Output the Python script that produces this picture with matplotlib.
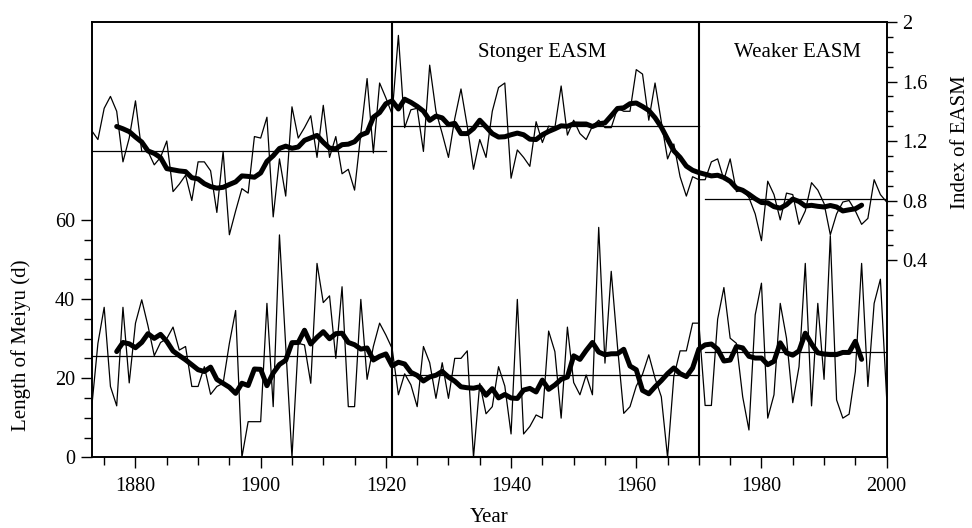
import numpy as np
import matplotlib
matplotlib.use("Agg")
import matplotlib.pyplot as plt
from matplotlib.patches import Rectangle

plt.rcParams['font.family'] = ['Liberation Serif', 'DejaVu Serif']

years = list(range(1873, 2001))

easm = [1.27, 1.21, 1.42, 1.50, 1.40, 1.06, 1.22, 1.47, 1.13, 1.13,
        1.04, 1.09, 1.20, 0.86, 0.91, 0.97, 0.80, 1.06, 1.06, 1.00,
        0.72, 1.13, 0.57, 0.73, 0.88, 0.85, 1.23, 1.22, 1.36, 0.69,
        1.08, 0.83, 1.43, 1.22, 1.29, 1.37, 1.09, 1.44, 1.09, 1.23,
        0.98, 1.01, 0.87, 1.25, 1.62, 1.12, 1.59, 1.49, 1.38, 1.91,
        1.29, 1.41, 1.42, 1.13, 1.71, 1.40, 1.25, 1.09, 1.35, 1.55,
        1.30, 1.01, 1.21, 1.09, 1.40, 1.56, 1.59, 0.95, 1.14, 1.09,
        1.03, 1.33, 1.19, 1.30, 1.29, 1.57, 1.24, 1.34, 1.25, 1.21,
        1.30, 1.34, 1.29, 1.29, 1.42, 1.40, 1.40, 1.68, 1.65, 1.34,
        1.59, 1.33, 1.08, 1.18, 0.96, 0.83, 0.96, 0.94, 0.94, 1.06,
        1.08, 0.94, 1.08, 0.86, 0.87, 0.82, 0.71, 0.53, 0.93, 0.84,
        0.67, 0.85, 0.84, 0.64, 0.73, 0.92, 0.87, 0.78, 0.57, 0.71,
        0.79, 0.80, 0.73, 0.64, 0.68, 0.94, 0.84, 0.79]

meiyu = [12.5, 28.8, 37.9, 17.9, 13.0, 37.9, 18.8, 33.9, 39.8, 33.2,
         25.7, 29.0, 30.0, 32.9, 27.1, 28.0, 17.9, 17.9, 22.9, 15.9,
         17.9, 18.7, 28.8, 37.1, 0.0, 9.0, 9.0, 9.0, 38.9, 12.8,
         56.2, 28.0, 0.0, 28.8, 28.4, 18.7, 49.0, 39.1, 40.8, 25.0,
         43.1, 12.8, 12.8, 39.9, 19.7, 28.0, 33.9, 30.9, 27.5, 15.8,
         21.1, 18.3, 12.8, 28.0, 23.9, 14.9, 23.9, 14.9, 25.0, 25.0,
         26.9, 0.0, 18.7, 11.0, 12.8, 22.9, 18.0, 5.9, 39.9, 5.9,
         7.8, 10.7, 9.9, 31.9, 26.7, 9.9, 32.9, 18.9, 15.8, 20.8,
         15.8, 58.1, 23.8, 47.0, 28.0, 11.1, 12.8, 18.0, 21.0, 25.9,
         20.0, 15.3, 0.0, 20.4, 26.9, 26.9, 33.9, 33.9, 13.1, 13.1,
         34.9, 42.9, 30.1, 28.8, 15.3, 6.9, 36.0, 44.0, 9.9, 15.8,
         38.9, 30.1, 13.8, 22.9, 49.0, 13.0, 38.9, 19.7, 56.0, 14.5,
         9.9, 10.9, 21.7, 49.0, 17.9, 38.9, 45.0, 15.0]

# period means
period_start = [1873, 1921, 1971]
period_end = [1920, 1970, 2000]
easm_mean = [1.13, 1.30, 0.81]
meiyu_mean = [25.7, 20.7, 26.6]

period_labels = ["Stonger EASM", "Weaker EASM"]

window = 9
yrs = np.array(years)
k = np.ones(window) / window
half = window // 2
smooth_years = yrs[half:-half]
easm_smooth = np.convolve(easm, k, mode='valid')
meiyu_smooth = np.convolve(meiyu, k, mode='valid')

fig = plt.figure(figsize=(9.72, 5.28), dpi=100)
ax = fig.add_axes([0.0943, 0.1339, 0.8179, 0.8244])
ax2 = ax.twinx()
ax2.set_position(ax.get_position())

# Meiyu on left axis
ax.plot(years, meiyu, color='black', lw=0.9)
ax.plot(smooth_years, meiyu_smooth, color='black', lw=3.6, solid_joinstyle='round', solid_capstyle='round')
for s, e, m in zip(period_start, period_end, meiyu_mean):
    ax.plot([s, e], [m, m], color='black', lw=0.9)

# EASM on right axis
ax2.plot(years, easm, color='black', lw=0.9)
ax2.plot(smooth_years, easm_smooth, color='black', lw=3.6, solid_joinstyle='round', solid_capstyle='round')
for s, e, m in zip(period_start, period_end, easm_mean):
    ax2.plot([s, e], [m, m], color='black', lw=0.9)

ax.set_xlim(1873, 2000)
ax.set_ylim(0, 110)
ax2.set_ylim(-0.926, 2.0)

# box around strong period
rect = Rectangle((1921, 0), 1970 - 1921, 1, transform=ax.get_xaxis_transform(),
                 fill=False, edgecolor='black', lw=1.5, clip_on=False, zorder=5)
ax.add_patch(rect)

ax.set_xticks(list(range(1880, 2001, 20)))
ax.set_xticks([y for y in range(1875, 2000, 5) if y % 20 != 0], minor=True)
ax.set_yticks([0, 20, 40, 60])
ax.set_yticks([5, 10, 15, 25, 30, 35, 45, 50, 55], minor=True)
ax2.set_yticks([0.4, 0.8, 1.2, 1.6, 2.0])
ax2.set_yticklabels(["0.4", "0.8", "1.2", "1.6", "2"])
ax2.set_yticks([0.5, 0.6, 0.7, 0.9, 1.0, 1.1, 1.3, 1.4, 1.5, 1.7, 1.8, 1.9], minor=True)

ax.tick_params(axis='both', which='major', direction='out', length=8, width=1.0, labelsize=14.5, pad=4)
ax.tick_params(axis='both', which='minor', direction='out', length=5.5, width=1.0)
ax.tick_params(axis='x', which='major', pad=6)
ax2.tick_params(axis='y', which='major', direction='out', length=7, width=1.0, labelsize=14.5, pad=4)
ax2.tick_params(axis='y', which='minor', direction='out', length=4.5, width=1.0)

for a in (ax, ax2):
    for sp in a.spines.values():
        sp.set_linewidth(1.2)

ax.text(1944.9, 0.929, period_labels[0], transform=ax.get_xaxis_transform(),
        ha='center', va='center', fontsize=15)
ax.text(1985.8, 0.929, period_labels[1], transform=ax.get_xaxis_transform(),
        ha='center', va='center', fontsize=15)

fig.text(21 / 972, 1 - 345 / 528, "Length of Meiyu (d)", rotation=90,
         ha='center', va='center', fontsize=15)
fig.text(960 / 972, 1 - 142 / 528, "Index of EASM", rotation=90,
         ha='center', va='center', fontsize=15)
fig.text(489 / 972, 1 - 518 / 528, "Year", ha='center', va='center', fontsize=15)

fig.savefig("out.png", dpi=100)
